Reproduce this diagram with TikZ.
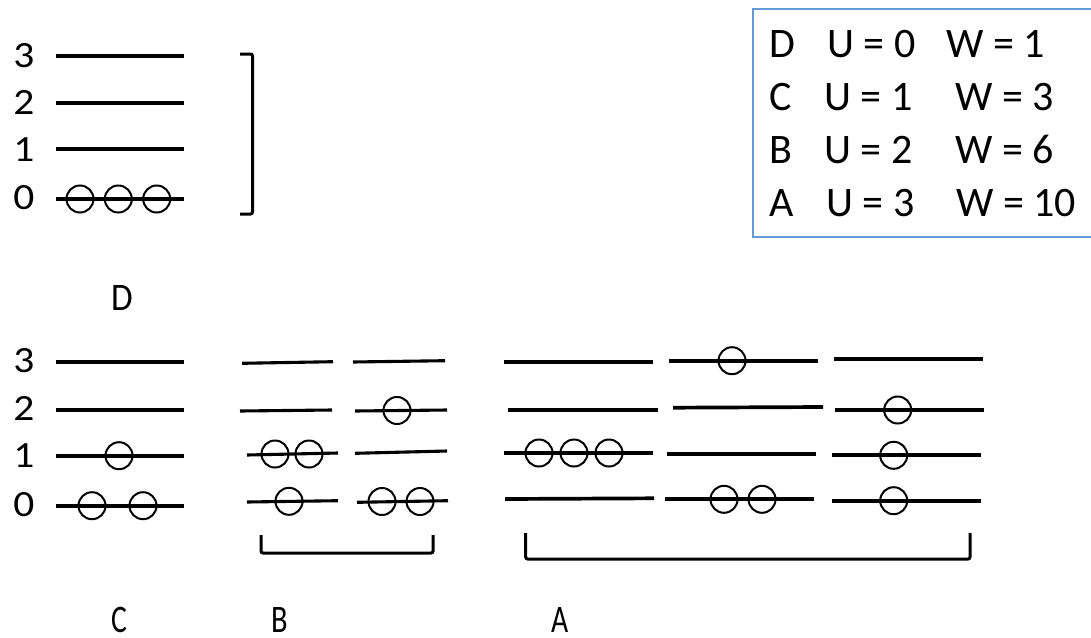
\documentclass[tikz,border=0pt]{standalone}
\usepackage{fontspec}
\setmainfont{Carlito}
\definecolor{boxblue}{RGB}{100,155,215}
\begin{document}
\begin{tikzpicture}[x=1pt,y=-1pt,
  level/.style={line width=3.7pt},
  thinlevel/.style={line width=3.1pt},
  ball/.style={circle,draw,line width=2pt,minimum size=27pt,inner sep=0pt},
  brk/.style={line width=3pt,rounded corners=2pt},
  digit/.style={font=\fontsize{37}{44}\selectfont,anchor=base,inner sep=0pt},
  lab/.style={font=\fontsize{39}{46}\selectfont,anchor=base,inner sep=0pt},
  tab/.style={font=\fontsize{42}{50}\selectfont,anchor=base west,inner sep=0pt}]
\useasboundingbox (0,0) rectangle (1091,637);
\clip (0,0) rectangle (1091,637);
\fill[white] (0,0) rectangle (1091,637);

% ---------- D (top left) ----------
\node[digit] (dd3) at (24,67) {\scalebox{1.12}[1]{3}};
\node[digit] (dd2) at (24,114.5) {\scalebox{1.12}[1]{2}};
\node[digit] (dd1) at (24,161.5) {\scalebox{1.12}[1]{1}};
\node[digit] (dd0) at (24,209) {\scalebox{1.12}[1]{0}};
\draw[level] (56,55.7) -- (184,55.7);
\draw[level] (56,102.7) -- (184,102.7);
\draw[level] (56,149) -- (184,149);
\draw[level] (56,199) -- (184,199);
\node[ball] (dba) at (80,199) {};
\node[ball] (dbb) at (118.3,199) {};
\node[ball] (dbc) at (156.7,199) {};
\draw[brk] (240,54) -- (252.5,54) -- (252.5,214) -- (240,214);
\node[lab] (labD) at (122,310) {\scalebox{0.9}[1]{D}};

% ---------- C ----------
\node[digit] (cd3) at (24,372.5) {\scalebox{1.12}[1]{3}};
\node[digit] (cd2) at (24,420) {\scalebox{1.12}[1]{2}};
\node[digit] (cd1) at (24,467) {\scalebox{1.12}[1]{1}};
\node[digit] (cd0) at (24,516) {\scalebox{1.12}[1]{0}};
\draw[level] (56,362) -- (184,362);
\draw[level] (56,409.7) -- (184,409.7);
\draw[level] (56,455.7) -- (184,455.7);
\draw[level] (56,505.7) -- (184,505.7);
\node[ball] (cba) at (119,455.7) {};
\node[ball] (cbb) at (92,505.7) {};
\node[ball] (cbc) at (143,505.7) {};
\node[lab] (labC) at (119,632) {\scalebox{0.76}[1]{C}};

% ---------- B ----------
\draw[thinlevel] (242,363.3) -- (333,361.7);
\draw[thinlevel] (240,411) -- (332,410);
\draw[thinlevel] (247,455) -- (338,453);
\draw[thinlevel] (247,502) -- (338,500.7);
\node[ball] (bb1) at (275,454) {};
\node[ball] (bb2) at (309,454) {};
\node[ball] (bb3) at (289,501.3) {};
\draw[thinlevel] (353,362) -- (445,360.7);
\draw[thinlevel] (355,411) -- (447,410);
\draw[thinlevel] (355,453.3) -- (447,451);
\draw[thinlevel] (357,502.3) -- (448,500.7);
\node[ball] (bb4) at (397,410.5) {};
\node[ball] (bb5) at (382,501.5) {};
\node[ball] (bb6) at (420,501.5) {};
\draw[brk] (261,535) -- (261,553) -- (433,553) -- (433,535);
\node[lab] (labB) at (280,632) {\scalebox{0.78}[1]{B}};

% ---------- A ----------
\draw[level] (504,361.7) -- (653,361.7);
\draw[level] (508,410) -- (658,410);
\draw[level] (504,453) -- (653,453);
\draw[level] (505,499) -- (654,498.3);
\node[ball] (ab1) at (539,453) {};
\node[ball] (ab2) at (574,453) {};
\node[ball] (ab3) at (609,453) {};
\draw[level] (669,360.7) -- (818,360.7);
\draw[level] (673,407.7) -- (823,407);
\draw[level] (667,454) -- (816,454);
\draw[level] (665,499.3) -- (814,499.3);
\node[ball] (ab4) at (732,360.7) {};
\node[ball] (ab5) at (724,499.3) {};
\node[ball] (ab6) at (762,499.3) {};
\draw[level] (834,359) -- (983,359);
\draw[level] (835,410) -- (984,410);
\draw[level] (832,455.3) -- (981,455.3);
\draw[level] (832,500.7) -- (981,500.7);
\node[ball] (ab7) at (897.7,410) {};
\node[ball] (ab8) at (893.7,455.3) {};
\node[ball] (ab9) at (893.7,500.7) {};
\draw[brk] (525.7,533) -- (525.7,559) -- (970,559) -- (970,533);
\node[lab] (labA) at (560,632) {\scalebox{0.76}[1]{A}};

% ---------- table box ----------
\draw[boxblue,line width=1.6pt] (753,9) rectangle (1110,237);
\node[tab] (tD) at (769,57) {D};
\node[tab] (uD) at (827,57) {U = 0};
\node[tab] (wD) at (946,57) {W = 1};
\node[tab] (tC) at (769,110) {C};
\node[tab] (uC) at (824,110) {U = 1};
\node[tab] (wC) at (955,110) {W = 3};
\node[tab] (tB) at (769,163) {B};
\node[tab] (uB) at (824,163) {U = 2};
\node[tab] (wB) at (955,163) {W = 6};
\node[tab] (tA) at (769,216) {A};
\node[tab] (uA) at (826,216) {U = 3};
\node[tab] (wA) at (956,216) {W = 10};
\end{tikzpicture}
\end{document}
